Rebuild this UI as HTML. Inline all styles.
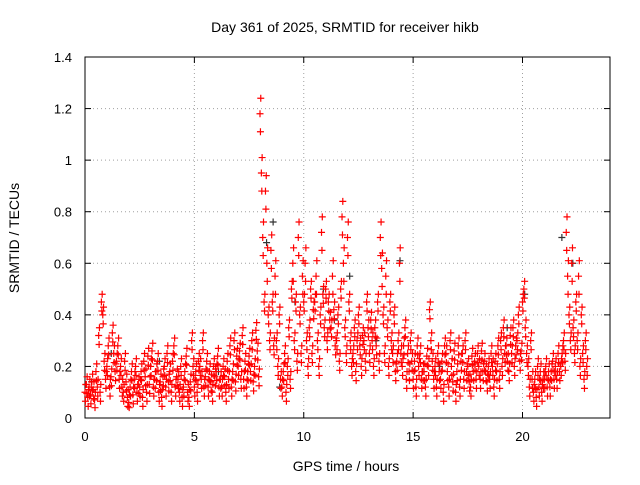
<!DOCTYPE html>
<html><head><meta charset="utf-8"><style>
body{margin:0;background:#fff}
svg{font-family:"Liberation Sans",sans-serif;font-size:14px}
</style></head><body>
<svg id="chart" width="640" height="480">
<text x="345" y="32" text-anchor="middle">Day 361 of 2025, SRMTID for receiver hikb</text>
<text x="346" y="471" text-anchor="middle">GPS time / hours</text>
<text transform="translate(19,238) rotate(-90)" text-anchor="middle">SRMTID / TECUs</text>
<g id="grid"></g>
<g id="axes"></g>
<g id="marks"></g>
</svg>
<script>
const xTicks=[0,5,10,15,20];
const yTicks=[0,0.2,0.4,0.6,0.8,1,1.2,1.4];
const yTickLabels=["0","0.2","0.4","0.6","0.8","1","1.2","1.4"];
const bucketStarts=[0,0.25,0.5,0.75,1,1.25,1.5,1.75,2,2.25,2.5,2.75,3,3.25,3.5,3.75,4,4.25,4.5,4.75,5,5.25,5.5,5.75,6,6.25,6.5,6.75,7,7.25,7.5,7.75,8,8.25,8.5,8.75,9,9.25,9.5,9.75,10,10.25,10.5,10.75,11,11.25,11.5,11.75,12,12.25,12.5,12.75,13,13.25,13.5,13.75,14,14.25,14.5,14.75,15,15.25,15.5,15.75,16,16.25,16.5,16.75,17,17.25,17.5,17.75,18,18.25,18.5,18.75,19,19.25,19.5,19.75,20,20.25,20.5,20.75,21,21.25,21.5,21.75,22,22.25,22.5,22.75];
const redValues=[
[0.10,0.13,0.08,0.12],[0.09,0.14,0.11,0.07],[0.18,0.12,0.32,0.10],[0.45,0.40,0.22,0.15],
[0.20,0.28,0.12,0.16],[0.33,0.25,0.18,0.22],[0.28,0.15,0.20,0.12],[0.10,0.22,0.14,0.08],
[0.06,0.12,0.18,0.09],[0.15,0.20,0.10,0.13],[0.12,0.18,0.08,0.22],[0.16,0.10,0.24,0.13],
[0.20,0.26,0.12,0.15],[0.18,0.22,0.10,0.14],[0.08,0.16,0.20,0.12],[0.25,0.14,0.18,0.10],
[0.22,0.28,0.12,0.16],[0.15,0.10,0.20,0.08],[0.12,0.18,0.24,0.10],[0.08,0.14,0.30,0.20],
[0.12,0.18,0.10,0.22],[0.20,0.15,0.30,0.12],[0.16,0.22,0.12,0.18],[0.14,0.10,0.20,0.16],
[0.18,0.24,0.12,0.15],[0.12,0.20,0.16,0.10],[0.22,0.15,0.28,0.12],[0.18,0.30,0.14,0.24],
[0.20,0.26,0.15,0.32],[0.15,0.22,0.12,0.18],[0.24,0.18,0.30,0.14],[0.20,0.34,0.26,0.16],
[1.18,0.95,0.70,0.45],[0.88,0.60,0.40,0.30],[0.65,0.45,0.28,0.55],[0.30,0.20,0.40,0.15],
[0.12,0.18,0.25,0.10],[0.20,0.35,0.15,0.50],[0.60,0.30,0.45,0.22],[0.70,0.40,0.25,0.55],
[0.45,0.60,0.30,0.20],[0.35,0.50,0.25,0.42],[0.45,0.55,0.30,0.20],[0.40,0.72,0.48,0.35],
[0.50,0.30,0.45,0.38],[0.35,0.55,0.42,0.28],[0.30,0.40,0.22,0.50],[0.78,0.60,0.35,0.25],
[0.70,0.45,0.30,0.20],[0.25,0.35,0.18,0.30],[0.40,0.28,0.20,0.32],[0.30,0.22,0.45,0.35],
[0.25,0.38,0.30,0.20],[0.35,0.28,0.45,0.22],[0.70,0.58,0.40,0.25],[0.55,0.35,0.20,0.45],
[0.30,0.25,0.40,0.18],[0.22,0.30,0.60,0.25],[0.20,0.28,0.35,0.15],[0.25,0.18,0.30,0.22],
[0.15,0.22,0.12,0.28],[0.20,0.25,0.15,0.18],[0.18,0.12,0.24,0.20],[0.42,0.30,0.22,0.15],
[0.20,0.12,0.25,0.18],[0.15,0.22,0.10,0.28],[0.25,0.18,0.12,0.30],[0.20,0.14,0.26,0.10],
[0.18,0.28,0.12,0.22],[0.25,0.15,0.30,0.18],[0.20,0.14,0.12,0.24],[0.18,0.22,0.15,0.25],
[0.20,0.15,0.26,0.18],[0.22,0.18,0.14,0.20],[0.15,0.25,0.20,0.12],[0.22,0.18,0.28,0.15],
[0.30,0.20,0.35,0.25],[0.28,0.22,0.18,0.32],[0.25,0.35,0.20,0.28],[0.30,0.40,0.22,0.26],
[0.45,0.50,0.35,0.25],[0.20,0.12,0.30,0.15],[0.10,0.15,0.08,0.20],[0.12,0.18,0.10,0.15],
[0.15,0.20,0.12,0.18],[0.12,0.18,0.22,0.15],[0.20,0.15,0.25,0.18],[0.20,0.25,0.30,0.22],
[0.72,0.55,0.40,0.30],[0.60,0.35,0.25,0.45],[0.30,0.55,0.20,0.40],[0.25,0.15,0.30,0.20]];
const greyTimes=[0.3,1.2,3.4,6.1,8.3,8.6,8.9,9.6,10.9,11.4,12.1,13.3,14.4,16.2,19.3,20.1,21.8,22.3];
const greyValues=[0.14,0.25,0.22,0.18,0.68,0.76,0.12,0.45,0.50,0.38,0.55,0.30,0.61,0.20,0.35,0.48,0.70,0.60];

const X0=85,X1=610,Y0=418,Y1=57;
const xs=v=>X0+(v/24)*(X1-X0);
const ys=v=>Y0-(v/1.4)*(Y0-Y1);
const NS="http://www.w3.org/2000/svg";
const grid=document.getElementById('grid'),axes=document.getElementById('axes'),marks=document.getElementById('marks');
function mk(tag,attrs,parent){const e=document.createElementNS(NS,tag);for(const k in attrs)e.setAttribute(k,attrs[k]);parent.appendChild(e);return e;}
xTicks.forEach(t=>{
  const x=xs(t);
  if(t>0){const g=mk('line',{x1:x,x2:x,y1:Y0,y2:Y1,stroke:'#a0a0a0','stroke-dasharray':'1,3'},grid);
  
  }
  mk('line',{x1:x,x2:x,y1:Y0,y2:Y0-6,stroke:'#000'},axes);
  mk('line',{x1:x,x2:x,y1:Y1,y2:Y1+6,stroke:'#000'},axes);
  const l=mk('text',{x:x,y:Y0+23,'text-anchor':'middle','font-size':13},axes);l.textContent=t;
  
  
});
yTicks.forEach((t,i)=>{
  const y=ys(t);
  if(i>0&&i<yTicks.length-1){const g=mk('line',{x1:X0,x2:X1,y1:y,y2:y,stroke:'#a0a0a0','stroke-dasharray':'1,3'},grid);
  
  }
  mk('line',{x1:X0,x2:X0+6,y1:y,y2:y,stroke:'#000'},axes);
  mk('line',{x1:X1,x2:X1-6,y1:y,y2:y,stroke:'#000'},axes);
  const l=mk('text',{x:X0-13,y:y+5,'text-anchor':'end','font-size':13},axes);l.textContent=yTickLabels[i];
  
  
});
mk('rect',{x:X0,y:Y1,width:X1-X0,height:Y0-Y1,fill:'none',stroke:'#000'},axes);
function plus(x,y,c,name){
  const p=mk('path',{d:`M${x-3.5},${y}h7M${x},${y-3.5}v7`,stroke:c,'stroke-width':1.2,fill:'none'},marks);
  
  
}
greyTimes.forEach((t,i)=>plus(xs(t),ys(greyValues[i]),'#333','grey-point'));
const clusterDx=[0,0.035,0.02],clusterDv=[0,0.03,-0.035];
bucketStarts.forEach((t,i)=>{
  redValues[i].forEach((v,j)=>{
    clusterDx.forEach((dx,k)=>{
      plus(xs(t+j*0.0625+dx),ys(Math.max(0.04,v+clusterDv[k]*(v>0.5?2:1))),'#f00','red-point');
    });
  });
});
</script>
</body></html>
